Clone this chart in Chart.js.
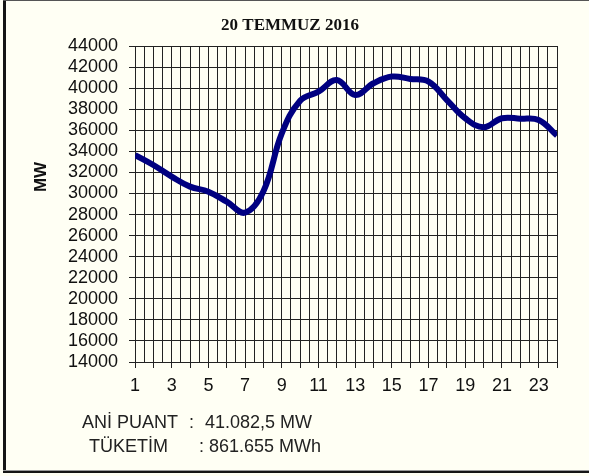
<!DOCTYPE html>
<html>
<head>
<meta charset="utf-8">
<script src="https://cdn.jsdelivr.net/npm/chart.js@4/dist/chart.umd.min.js"></script>
<style>
  html, body { margin: 0; padding: 0; background: #FFFFF4; }
  #wrap { width: 589px; height: 476px; position: relative; }
</style>
</head>
<body>
<div id="wrap"><canvas id="c" width="589" height="476"></canvas></div>
<script>
const hours = [1,2,3,4,5,6,7,8,9,10,11,12,13,14,15,16,17,18,19,20,21,22,23,24];
const loadMW = [33650,32700,31600,30650,30170,29220,28180,30200,35700,38800,39660,40770,
                39350,40460,41100,40870,40610,38870,37140,36280,37140,37100,36980,35500];
const yTicks = [14000,16000,18000,20000,22000,24000,26000,28000,30000,32000,34000,36000,38000,40000,42000,44000];
const xLabels = ['1','3','5','7','9','11','13','15','17','19','21','23'];
const titleText = '20 TEMMUZ 2016';
const yTitle = 'MW';
const infoLines = [
  ['ANİ PUANT', ':', '41.082,5 MW'],
  ['TÜKETİM', ':', '861.655 MWh']
];

const decor = {
  id: 'decor',
  beforeDraw(chart) {
    const ctx = chart.ctx;
    ctx.save();
    ctx.fillStyle = '#FFFFF4';
    ctx.fillRect(0, 0, chart.width, chart.height);
    ctx.fillStyle = '#151515';
    ctx.fillRect(3, 0, 3, 473);
    ctx.fillStyle = '#555';
    ctx.fillRect(3, 0, 586, 1);
    ctx.fillStyle = '#999';
    ctx.fillRect(3, 470, 586, 1);
    ctx.fillStyle = '#151515';
    ctx.fillRect(3, 471, 586, 2);
    ctx.restore();
  },
  afterDraw(chart) {
    const ctx = chart.ctx;
    ctx.save();
    ctx.fillStyle = '#111';
    ctx.font = 'bold 17px "Liberation Serif"';
    ctx.textAlign = 'center';
    ctx.textBaseline = 'middle';
    ctx.fillText(titleText, 290, 26);
    ctx.save();
    ctx.translate(41, 177);
    ctx.rotate(-Math.PI / 2);
    ctx.font = 'bold 17px "Liberation Sans"';
    ctx.fillText(yTitle, 0, 0);
    ctx.restore();
    ctx.font = '18px "Liberation Sans"';
    ctx.fillStyle = '#222';
    ctx.textAlign = 'left';
    const xs = [[82, 189, 205], [89, 199, 209]];
    const ys = [423, 447];
    infoLines.forEach((parts, i) => {
      parts.forEach((p, j) => ctx.fillText(p, xs[i][j], ys[i]));
    });
    ctx.restore();
  }
};

new Chart(document.getElementById('c'), {
  type: 'line',
  data: {
    datasets: [{
      data: hours.map((h, i) => ({x: h, y: loadMW[i]})),
      borderColor: '#000080',
      borderWidth: 6,
      pointRadius: 0,
      tension: 0.4,
      fill: false
    }]
  },
  options: {
    responsive: false,
    animation: false,
    events: [],
    layout: { padding: { top: 46, right: 32, bottom: 0, left: 0 } },
    plugins: { legend: { display: false }, title: { display: false }, tooltip: { enabled: false } },
    scales: {
      x: {
        type: 'linear', position: 'bottom', min: 1, max: 24,
        afterBuildTicks(scale) { scale.ticks = hours.map(v => ({value: v})); },
        afterFit(scale) { scale.height = 114; },
        ticks: {
          autoSkip: false, maxRotation: 0, padding: 7,
          color: '#111', font: { family: 'Liberation Sans', size: 18 },
          callback(v) { const s = String(v); return xLabels.includes(s) ? s : ''; }
        },
        grid: { color: '#222', lineWidth: 1, drawOnChartArea: false, tickLength: 6, tickColor: '#222' },
        border: { color: '#222', width: 1 }
      },
      x2: {
        type: 'linear', position: 'top', min: 1, max: 24,
        afterBuildTicks(scale) {
          const t = [];
          for (let v = 1; v <= 24; v += 0.5) t.push({value: v});
          scale.ticks = t;
        },
        afterFit(scale) { scale.height = 0; },
        ticks: { display: false, autoSkip: false },
        grid: { color: '#222', lineWidth: 1, drawTicks: false },
        border: { color: '#222', width: 1 }
      },
      y: {
        min: 14000, max: 44000,
        afterBuildTicks(scale) { scale.ticks = yTicks.map(v => ({value: v})); },
        afterFit(scale) { scale.width = 135; },
        ticks: {
          autoSkip: false, padding: 11, color: '#111', font: { family: 'Liberation Sans', size: 18 },
          callback(v) { return String(v); }
        },
        grid: { color: '#222', lineWidth: 1, tickLength: 6, tickColor: '#222' },
        border: { color: '#222', width: 1 }
      }
    }
  },
  plugins: [decor]
});
</script>
</body>
</html>
